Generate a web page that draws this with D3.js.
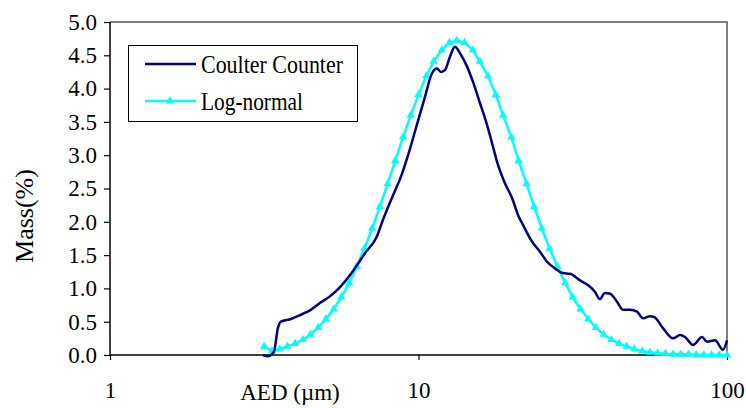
<!DOCTYPE html>
<html>
<head>
<meta charset="utf-8">
<script src="https://cdn.jsdelivr.net/npm/d3@7"></script>
<style>
  body { margin: 0; background: #fff; }
  text { font-family: "Liberation Serif", "Times New Roman", serif; fill: #000; }
</style>
</head>
<body>
<div id="chart-area"></div>
<script>
var width = 746,
    height = 408;

// Coulter Counter measurement (AED in um, mass %)
var coulterSize = [3.13, 3.25, 3.40, 3.50, 3.58, 3.86, 4.13, 4.45, 4.79, 5.16,
    5.57, 6.00, 6.32, 6.71, 7.33, 7.67, 8.27, 8.84, 9.25, 9.87,
    10.5, 11.06, 11.48, 11.83, 12.19, 12.65, 13.13, 13.64, 14.37, 15.02,
    15.83, 16.67, 17.43, 18.11, 19.06, 20.09, 21.03, 21.83, 23.35, 24.77,
    26.1, 27.7, 29.4, 30.97, 33.4, 35.4, 37.3, 38.7, 40.2, 41.8,
    44.0, 46.0, 48.5, 51.1, 53.4, 56.2, 58.0, 62.1, 66.8, 70.5,
    73.1, 77.6, 83.0, 86.1, 91.4, 97.1, 100];
var coulterMass = [0.00, -0.02, 0.05, 0.40, 0.50, 0.54, 0.60, 0.67, 0.78, 0.88,
    1.02, 1.20, 1.35, 1.53, 1.78, 2.03, 2.40, 2.72, 3.00, 3.45,
    3.88, 4.23, 4.30, 4.25, 4.28, 4.48, 4.63, 4.53, 4.33, 4.10,
    3.78, 3.46, 3.13, 2.85, 2.58, 2.36, 2.10, 1.95, 1.70, 1.55,
    1.40, 1.30, 1.23, 1.22, 1.12, 1.05, 0.95, 0.84, 0.93, 0.92,
    0.80, 0.68, 0.68, 0.65, 0.55, 0.58, 0.57, 0.40, 0.25, 0.30,
    0.27, 0.15, 0.27, 0.20, 0.22, 0.08, 0.22];

// Log-normal fit
var logSize = [3.16, 3.35, 3.55, 3.76, 3.98, 4.22, 4.47, 4.73, 5.01, 5.31,
    5.62, 5.96, 6.31, 6.68, 7.08, 7.50, 7.94, 8.41, 8.91, 9.44,
    10.0, 10.6, 11.2, 11.9, 12.6, 13.3, 14.1, 15.0, 15.8, 16.8,
    17.8, 18.8, 20.0, 21.1, 22.4, 23.7, 25.1, 26.6, 28.2, 29.9,
    31.6, 33.5, 35.5, 37.6, 39.8, 42.2, 44.7, 47.3, 50.1, 53.1,
    56.2, 59.6, 63.1, 66.8, 70.8, 75.0, 79.4, 84.1, 89.1, 94.4, 100];
var logMass = [0.13, 0.06, 0.09, 0.13, 0.17, 0.23, 0.31, 0.41, 0.54, 0.69,
    0.87, 1.08, 1.33, 1.60, 1.90, 2.23, 2.57, 2.92, 3.27, 3.60,
    3.91, 4.19, 4.41, 4.58, 4.69, 4.72, 4.69, 4.58, 4.41, 4.19,
    3.91, 3.60, 3.27, 2.92, 2.57, 2.23, 1.90, 1.60, 1.33, 1.08,
    0.87, 0.69, 0.54, 0.41, 0.31, 0.23, 0.17, 0.13, 0.09, 0.06,
    0.04, 0.03, 0.02, 0.01, 0.01, 0.01, 0.00, 0.00, 0.00, 0.00, 0.00];

var xTicks = [1, 10, 100];
var yTicks = [0, 0.5, 1, 1.5, 2, 2.5, 3, 3.5, 4, 4.5, 5];

var margin = {left: 110, top: 22, right: 19, bottom: 53};
var w = width - margin.left - margin.right,
    h = height - margin.top - margin.bottom;

var svg = d3.select("#chart-area").append("svg")
    .attr("width", width)
    .attr("height", height);

var g = svg.append("g")
    .attr("transform", "translate(" + margin.left + "," + margin.top + ")");

var x = d3.scaleLog().domain([1, 100]).range([0, w]);
var y = d3.scaleLinear().domain([0, 5]).range([h, 0]);

// frame: gray top/right
g.append("path")
    .attr("d", "M0,0H" + w + "V" + h)
    .attr("fill", "none")
    .attr("stroke", "#808080")
    .attr("stroke-width", 2);

// axes
var yAxis = g.append("g")
    .call(d3.axisLeft(y).tickValues(yTicks).tickSize(6).tickPadding(7)
        .tickFormat(d3.format(".1f")));
var xAxis = g.append("g")
    .attr("transform", "translate(0," + h + ")")
    .call(d3.axisBottom(x).tickValues(xTicks).tickSize(5).tickPadding(22)
        .tickFormat(d3.format("d")));

[yAxis, xAxis].forEach(function(a) {
    a.select(".domain").attr("stroke", "#000").attr("stroke-width", 1.5);
    a.selectAll(".tick line").attr("stroke", "#000").attr("stroke-width", 1.2);
    a.selectAll(".tick text")
        .style("font-family", "'Liberation Serif', serif")
        .style("font-size", "23px");
});
xAxis.select(".domain").attr("d", "M0,0H" + w);
yAxis.select(".domain").attr("d", "M0,0V" + h);

// lines
var line = d3.line()
    .x(function(d) { return x(d[0]); })
    .y(function(d) { return y(d[1]); });

var logData = logSize.map(function(s, i) { return [s, logMass[i]]; });
var coulterData = coulterSize.map(function(s, i) { return [s, coulterMass[i]]; });

g.append("path")
    .datum(logData)
    .attr("fill", "none")
    .attr("stroke", "#00FFFF")
    .attr("stroke-width", 2.5)
    .attr("d", line);

var tri = d3.symbol().type(d3.symbolTriangle).size(30);
g.selectAll(".marker")
    .data(logData)
    .enter().append("path")
    .attr("class", "marker")
    .attr("d", tri)
    .attr("fill", "#00FFFF")
    .attr("transform", function(d) { return "translate(" + x(d[0]) + "," + y(d[1]) + ")"; });

g.append("path")
    .datum(coulterData)
    .attr("fill", "none")
    .attr("stroke", "#000080")
    .attr("stroke-width", 2.5)
    .attr("stroke-linejoin", "round")
    .attr("d", line.curve(d3.curveMonotoneX));

// axis titles
svg.append("text")
    .attr("x", 290)
    .attr("y", 400)
    .attr("text-anchor", "middle")
    .style("font-size", "23px")
    .text("AED (\u00b5m)");

svg.append("text")
    .attr("transform", "translate(33,216) rotate(-90)")
    .attr("text-anchor", "middle")
    .style("font-size", "26px")
    .text("Mass(%)");

// legend
var legend = svg.append("g");
legend.append("rect")
    .attr("x", 128.5).attr("y", 45.5)
    .attr("width", 229).attr("height", 76)
    .attr("fill", "#fff")
    .attr("stroke", "#000")
    .attr("stroke-width", 1);

legend.append("line")
    .attr("x1", 145).attr("x2", 196).attr("y1", 64).attr("y2", 64)
    .attr("stroke", "#000080").attr("stroke-width", 2.5);
legend.append("line")
    .attr("x1", 145).attr("x2", 196).attr("y1", 101).attr("y2", 101)
    .attr("stroke", "#00FFFF").attr("stroke-width", 2.5);
legend.append("path")
    .attr("d", tri)
    .attr("fill", "#00FFFF")
    .attr("transform", "translate(170,101)");

legend.append("text")
    .attr("x", 201).attr("y", 73)
    .attr("textLength", 142).attr("lengthAdjust", "spacingAndGlyphs")
    .style("font-size", "25px")
    .text("Coulter Counter");
legend.append("text")
    .attr("x", 201).attr("y", 110)
    .attr("textLength", 102).attr("lengthAdjust", "spacingAndGlyphs")
    .style("font-size", "25px")
    .text("Log-normal");
</script>
</body>
</html>
